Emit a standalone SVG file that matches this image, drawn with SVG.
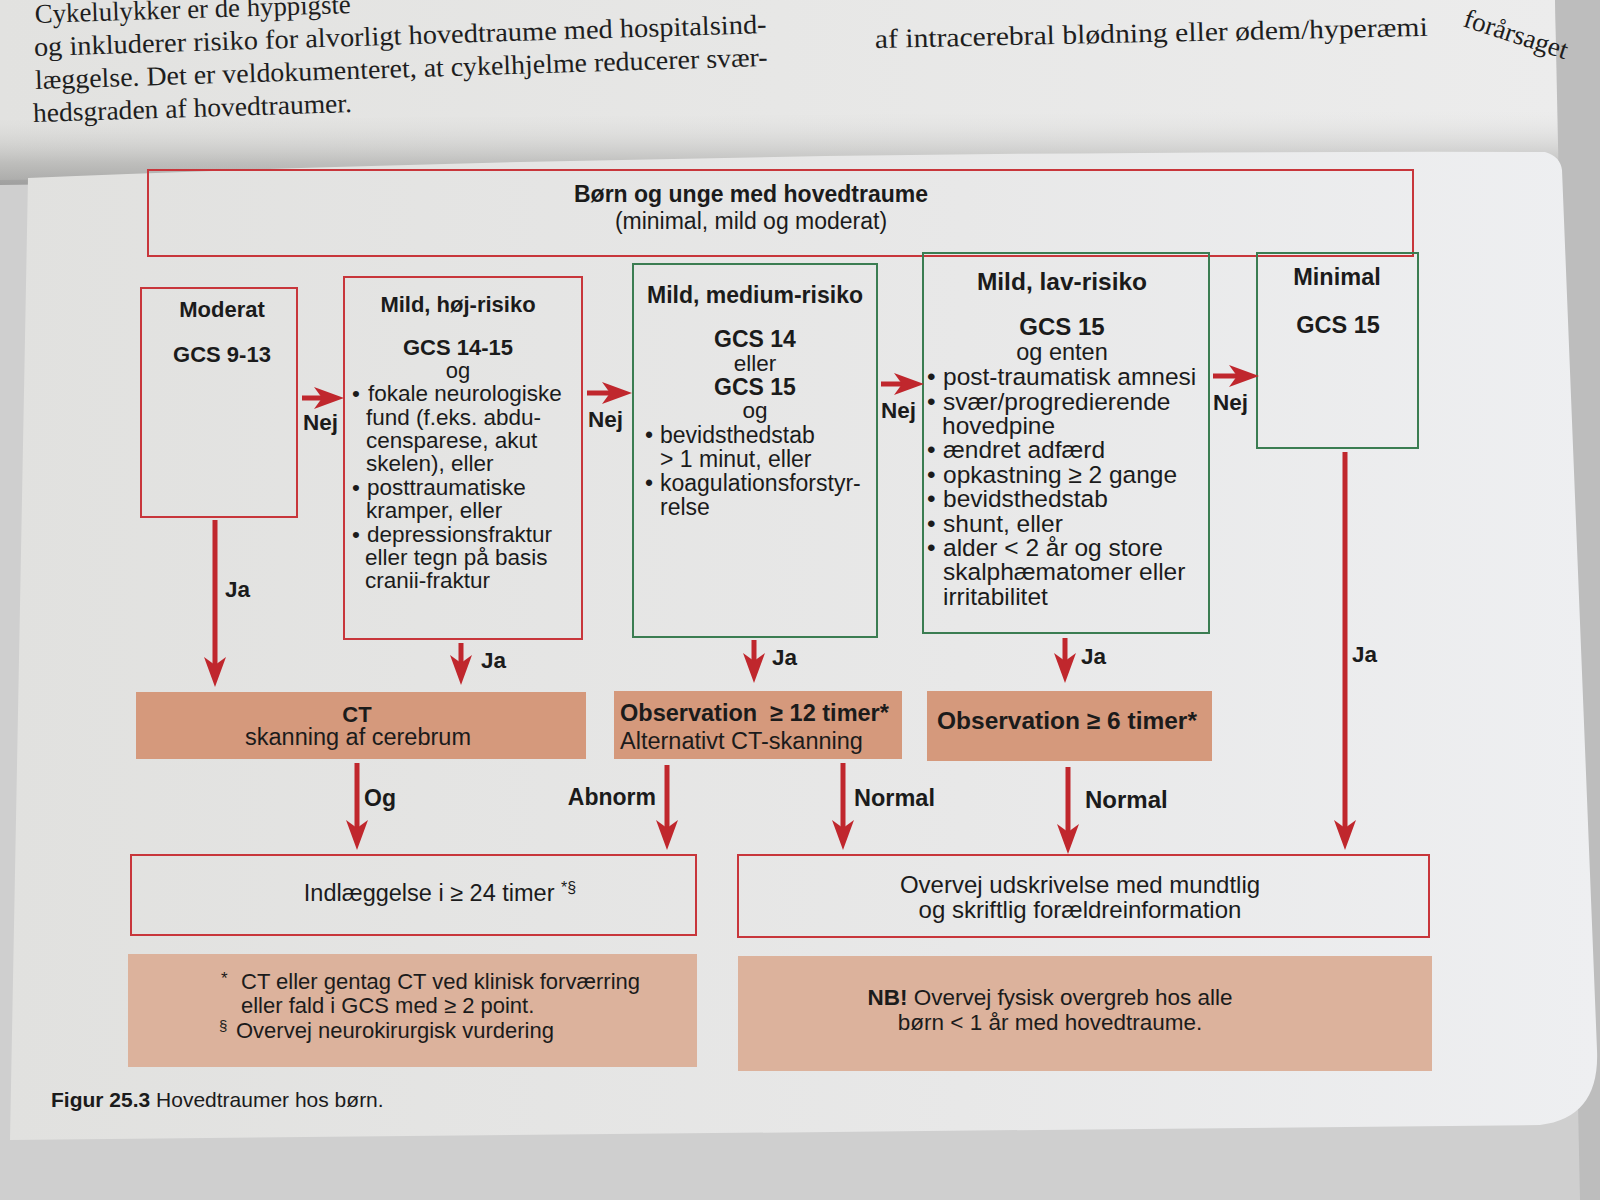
<svg xmlns="http://www.w3.org/2000/svg" width="1600" height="1200" viewBox="0 0 1600 1200">
  <defs>
    <linearGradient id="pageTop" x1="0" y1="0" x2="1" y2="0">
      <stop offset="0" stop-color="#e2e2e0"/>
      <stop offset="1" stop-color="#ececec"/>
    </linearGradient>
    <linearGradient id="shadow" x1="0" y1="0" x2="0" y2="1">
      <stop offset="0" stop-color="#e2e2e0" stop-opacity="0"/>
      <stop offset="0.7" stop-color="#9a9a98"/>
      <stop offset="1" stop-color="#6f6f6e"/>
    </linearGradient>
    <linearGradient id="panel" x1="0" y1="0" x2="1" y2="0">
      <stop offset="0" stop-color="#e1e1df"/>
      <stop offset="0.6" stop-color="#e8e8e8"/>
      <stop offset="1" stop-color="#eeeff1"/>
    </linearGradient>
    <marker id="ah" markerUnits="userSpaceOnUse" viewBox="0 0 30 22" markerWidth="30" markerHeight="22" refX="14" refY="11" orient="auto">
      <path d="M0,0 L30,11 L0,22 L8,11 Z" fill="#c0272d"/>
    </marker>
    <style>
      .b { font-family: "Liberation Sans", Arial, sans-serif; font-weight: bold; fill: #1b1b1b; }
      .r { font-family: "Liberation Sans", Arial, sans-serif; fill: #1b1b1b; }
      .serif { font-family: "Liberation Serif", "Times New Roman", serif; fill: #1e1e1e; font-size: 27px; }
      .red { fill: none; stroke: #c8363b; stroke-width: 2; }
      .green { fill: none; stroke: #3b7d52; stroke-width: 2; }
      .act { fill: #d5997c; stroke: none; }
      .note { fill: #dcb29c; stroke: none; }
      .conn { fill: none; stroke: #c0272d; stroke-width: 5; marker-end: url(#ah); }
      .c { text-anchor: middle; }
    </style>
  </defs>

  <!-- page background -->
  <rect x="0" y="0" width="1600" height="1200" fill="#cfcfcf"/>
  <path d="M0,0 H1555 L1560,160 L0,180 Z" fill="url(#pageTop)"/>
  <path d="M0,120 L1560,110 L1560,165 L0,185 Z" fill="url(#shadow)" opacity="0.5"/>
  <path d="M1555,0 H1600 V1200 H1580 Z" fill="#bdbdbd"/>
  <!-- figure panel -->
  <path d="M28,178 Q700,150 1545,152 Q1560,156 1562,170 L1597,1050 Q1600,1118 1540,1125 L10,1140 Z" fill="url(#panel)"/>

  <!-- page text -->
  <g id="page-text">
    <g transform="rotate(-1.8 34 51)">
      <text class="serif" x="36" y="23" textLength="316" lengthAdjust="spacingAndGlyphs">Cykelulykker er de hyppigste</text>
      <text class="serif" x="34" y="56" textLength="733" lengthAdjust="spacingAndGlyphs">og inkluderer risiko for alvorligt hovedtraume med hospitalsind-</text>
      <text class="serif" x="34" y="89" textLength="733" lengthAdjust="spacingAndGlyphs">læggelse. Det er veldokumenteret, at cykelhjelme reducerer svær-</text>
      <text class="serif" x="31" y="122" textLength="319" lengthAdjust="spacingAndGlyphs">hedsgraden af hovedtraumer.</text>
    </g>
    <text class="serif" x="875" y="48" transform="rotate(-1.25 875 48)" textLength="553" lengthAdjust="spacingAndGlyphs">af intracerebral blødning eller ødem/hyperæmi</text>
    <text class="serif" x="1462" y="26" font-size="20" fill="#666" transform="rotate(18 1462 26)">forårsaget</text>
  </g>

  <!-- header -->
  <g id="header">
    <rect class="red" x="148" y="170" width="1265" height="86"/>
    <text class="b c" x="751" y="202" font-size="23">Børn og unge med hovedtraume</text>
    <text class="r c" x="751" y="229" font-size="23">(minimal, mild og moderat)</text>
  </g>

  <!-- criteria boxes -->
  <g id="moderat">
    <rect class="red" x="141" y="288" width="156" height="229"/>
    <text class="b c" x="222" y="317" font-size="22">Moderat</text>
    <text class="b c" x="222" y="362" font-size="22">GCS 9-13</text>
  </g>

  <g id="mild-hoej">
    <rect class="red" x="344" y="277" width="238" height="362"/>
    <text class="b c" x="458" y="312" font-size="22">Mild, høj-risiko</text>
    <text class="b c" x="458" y="355" font-size="22">GCS 14-15</text>
    <text class="r c" x="458" y="378" font-size="22">og</text>
    <g class="r" font-size="22.5">
      <text x="352" y="401">•</text>
      <text x="368" y="401">fokale neurologiske</text>
      <text x="366" y="425">fund (f.eks. abdu-</text>
      <text x="366" y="448">censparese, akut</text>
      <text x="366" y="471">skelen), eller</text>
      <text x="352" y="495">•</text>
      <text x="367" y="495">posttraumatiske</text>
      <text x="366" y="518">kramper, eller</text>
      <text x="352" y="542">•</text>
      <text x="367" y="542">depressionsfraktur</text>
      <text x="365" y="565">eller tegn på basis</text>
      <text x="365" y="588">cranii-fraktur</text>
    </g>
  </g>

  <g id="mild-medium">
    <rect class="green" x="633" y="264" width="244" height="373"/>
    <text class="b c" x="755" y="303" font-size="23">Mild, medium-risiko</text>
    <text class="b c" x="755" y="347" font-size="23">GCS 14</text>
    <text class="r c" x="755" y="371" font-size="22.5">eller</text>
    <text class="b c" x="755" y="395" font-size="23">GCS 15</text>
    <text class="r c" x="755" y="418" font-size="22.5">og</text>
    <g class="r" font-size="23">
      <text x="645" y="443">•</text>
      <text x="660" y="443">bevidsthedstab</text>
      <text x="660" y="467">&gt; 1 minut, eller</text>
      <text x="645" y="491">•</text>
      <text x="660" y="491">koagulationsforstyr-</text>
      <text x="660" y="515">relse</text>
    </g>
  </g>

  <g id="mild-lav">
    <rect class="green" x="923" y="253" width="286" height="380"/>
    <text class="b c" x="1062" y="290" font-size="24.5">Mild, lav-risiko</text>
    <text class="b c" x="1062" y="335" font-size="24">GCS 15</text>
    <text class="r c" x="1062" y="360" font-size="23.5">og enten</text>
    <g class="r" font-size="24.5">
      <text x="927" y="385">•</text>
      <text x="943" y="385">post-traumatisk amnesi</text>
      <text x="927" y="410">•</text>
      <text x="943" y="410">svær/progredierende</text>
      <text x="942" y="434">hovedpine</text>
      <text x="927" y="458">•</text>
      <text x="943" y="458">ændret adfærd</text>
      <text x="927" y="483">•</text>
      <text x="943" y="483">opkastning ≥ 2 gange</text>
      <text x="927" y="507">•</text>
      <text x="943" y="507">bevidsthedstab</text>
      <text x="927" y="532">•</text>
      <text x="943" y="532">shunt, eller</text>
      <text x="927" y="556">•</text>
      <text x="943" y="556">alder &lt; 2 år og store</text>
      <text x="943" y="580">skalphæmatomer eller</text>
      <text x="943" y="605">irritabilitet</text>
    </g>
  </g>

  <g id="minimal">
    <rect class="green" x="1257" y="253" width="161" height="195"/>
    <text class="b c" x="1337" y="285" font-size="23.5">Minimal</text>
    <text class="b c" x="1338" y="333" font-size="23.5">GCS 15</text>
  </g>

  <!-- action boxes -->
  <g id="ct">
    <rect class="act" x="136" y="692" width="450" height="67"/>
    <text class="b c" x="357" y="722" font-size="22">CT</text>
    <text class="r c" x="358" y="745" font-size="23.5">skanning af cerebrum</text>
  </g>
  <g id="obs12">
    <rect class="act" x="614" y="691" width="288" height="68"/>
    <text class="b" x="620" y="721" font-size="23.5">Observation&#160; ≥ 12 timer*</text>
    <text class="r" x="620" y="749" font-size="23.5">Alternativt CT-skanning</text>
  </g>
  <g id="obs6">
    <rect class="act" x="927" y="691" width="285" height="70"/>
    <text class="b c" x="1067" y="729" font-size="24.5">Observation ≥ 6 timer*</text>
  </g>

  <!-- outcome boxes -->
  <g id="indlaeggelse">
    <rect class="red" x="131" y="855" width="565" height="80"/>
    <text class="r c" x="440" y="901" font-size="23.5">Indlæggelse i ≥ 24 timer <tspan font-size="16" dy="-8">*§</tspan></text>
  </g>
  <g id="udskrivelse">
    <rect class="red" x="738" y="855" width="691" height="82"/>
    <text class="r c" x="1080" y="893" font-size="24">Overvej udskrivelse med mundtlig</text>
    <text class="r c" x="1080" y="918" font-size="24">og skriftlig forældreinformation</text>
  </g>

  <!-- notes -->
  <g id="note-left">
    <rect class="note" x="128" y="954" width="569" height="113"/>
    <text class="r" x="221" y="984" font-size="17">*</text>
    <text class="r" x="241" y="989" font-size="22">CT eller gentag CT ved klinisk forværring</text>
    <text class="r" x="241" y="1013" font-size="22">eller fald i GCS med ≥ 2 point.</text>
    <text class="r" x="219" y="1031" font-size="15">§</text>
    <text class="r" x="236" y="1038" font-size="22">Overvej neurokirurgisk vurdering</text>
  </g>
  <g id="note-right">
    <rect class="note" x="738" y="956" width="694" height="115"/>
    <text class="r c" x="1050" y="1005" font-size="22.5"><tspan class="b">NB!</tspan> Overvej fysisk overgreb hos alle</text>
    <text class="r c" x="1050" y="1030" font-size="22.5">børn &lt; 1 år med hovedtraume.</text>
  </g>

  <!-- caption -->
  <text class="r" x="51" y="1107" font-size="21"><tspan class="b">Figur 25.3</tspan> Hovedtraumer hos børn.</text>

  <!-- connectors -->
  <g id="connectors">
    <path class="conn" d="M302,398 H328"/>
    <path class="conn" d="M587,393 H616"/>
    <path class="conn" d="M881,384 H908"/>
    <path class="conn" d="M1213,376 H1243"/>
    <path class="conn" d="M215,520 V671"/>
    <path class="conn" d="M461,643 V669"/>
    <path class="conn" d="M754,640 V667"/>
    <path class="conn" d="M1065,638 V667"/>
    <path class="conn" d="M1345,452 V834"/>
    <path class="conn" d="M357,763 V834"/>
    <path class="conn" d="M667,765 V834"/>
    <path class="conn" d="M843,763 V834"/>
    <path class="conn" d="M1068,767 V838"/>
  </g>

  <!-- connector labels -->
  <g id="labels" font-size="22.5">
    <text class="b" x="303" y="430">Nej</text>
    <text class="b" x="588" y="427">Nej</text>
    <text class="b" x="881" y="418">Nej</text>
    <text class="b" x="1213" y="410">Nej</text>
    <text class="b" x="225" y="597">Ja</text>
    <text class="b" x="481" y="668">Ja</text>
    <text class="b" x="772" y="665">Ja</text>
    <text class="b" x="1081" y="664">Ja</text>
    <text class="b" x="1352" y="662">Ja</text>
    <text class="b" x="364" y="806" font-size="23">Og</text>
    <text class="b" x="656" y="805" font-size="23" text-anchor="end">Abnorm</text>
    <text class="b" x="854" y="806" font-size="23.5">Normal</text>
    <text class="b" x="1085" y="808" font-size="24">Normal</text>
  </g>
</svg>
